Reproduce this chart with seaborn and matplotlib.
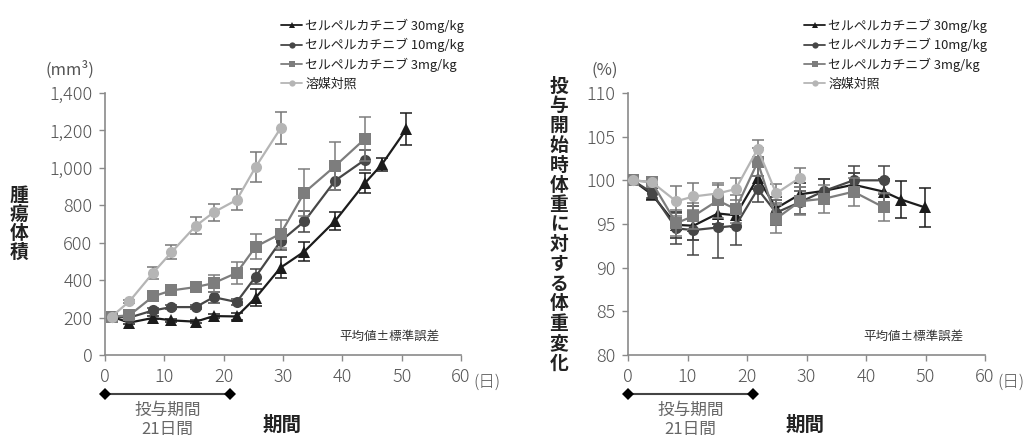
import matplotlib
matplotlib.use("Agg")
import matplotlib.pyplot as plt
from matplotlib.lines import Line2D
import seaborn as sns

# ---- data ----
series_labels = ["セルペルカチニブ 30mg/kg", "セルペルカチニブ 10mg/kg",
                 "セルペルカチニブ 3mg/kg", "溶媒対照"]

# tumour volume (mm3)
vol_days = [1.1, 4.1, 8.1, 11.2, 15.3, 18.3, 22.2, 25.4, 29.6, 33.6, 38.8, 43.8, 46.7, 50.8]
vol_30 = [205, 173, 198, 185, 178, 208, 206, 306, 467, 553, 717, 918, 1020, 1207]
vol_30_err = [0, 8, 8, 8, 8, 10, 18, 45, 55, 50, 47, 52, 35, 86]
vol_10 = [205, 200, 238, 256, 256, 309, 283, 419, 608, 714, 932, 1043]
vol_10_err = [0, 8, 15, 12, 12, 30, 15, 40, 45, 55, 50, 55]
vol_3 = [205, 212, 313, 345, 363, 384, 439, 579, 648, 868, 1010, 1155]
vol_3_err = [0, 8, 12, 18, 25, 46, 58, 67, 74, 124, 128, 117]
vol_ctrl = [205, 286, 439, 549, 690, 762, 829, 1005, 1212]
vol_ctrl_err = [0, 10, 33, 38, 45, 44, 56, 80, 84]

# body weight change (%)
bw_days = [0.8, 4.0, 8.1, 11.0, 15.1, 18.1, 21.8, 24.9, 28.9, 33.0, 37.9, 43.0, 45.9, 49.9]
bw_30 = [100, 98.4, 94.9, 94.8, 96.2, 96.0, 100.3, 96.8, 98.4, 98.8, 99.5, 98.7, 97.8, 96.9]
bw_30_err = [0, 0.7, 1.5, 1.6, 1.2, 1.3, 1.3, 1.3, 1.3, 1.3, 1.3, 1.4, 2.1, 2.2]
bw_10 = [100, 98.6, 94.5, 94.3, 94.6, 94.8, 99.0, 96.3, 97.5, 98.8, 100.0, 100.0]
bw_10_err = [0, 0.6, 1.8, 2.8, 3.5, 2.2, 1.5, 1.4, 1.3, 1.4, 1.6, 1.6]
bw_3 = [100, 99.8, 95.1, 95.9, 97.7, 96.7, 102.1, 95.6, 97.6, 97.9, 98.7, 96.9]
bw_3_err = [0, 0.6, 1.5, 1.5, 2.0, 1.6, 1.6, 1.6, 1.6, 1.6, 1.6, 1.6]
bw_ctrl = [100, 99.8, 97.6, 98.15, 98.5, 99.0, 103.6, 98.5, 100.3]
bw_ctrl_err = [0, 0.5, 1.7, 1.5, 1.0, 1.3, 1.0, 1.1, 1.1]

x_ticks = [0, 10, 20, 30, 40, 50, 60]
vol_ticks = [0, 200, 400, 600, 800, 1000, 1200, 1400]
bw_ticks = [80, 85, 90, 95, 100, 105, 110]

colors = ["#1c1c1c", "#474747", "#7d7d7d", "#b5b5b5"]
markers = ["^", "o", "s", "o"]

sns.set_theme(style="ticks")
plt.rcParams["font.family"] = ["Noto Sans CJK JP", "DejaVu Sans"]

fig = plt.figure(figsize=(10.28, 4.38), dpi=100)
W, H = 1028, 438
ax1 = fig.add_axes([105 / W, 1 - 355 / H, 356 / W, 262 / H])
ax2 = fig.add_axes([628 / W, 1 - 355 / H, 357 / W, 262 / H])


def draw(ax, days, series, errs, ylim, yticks, yfmt):
    order = [3, 0, 1, 2]  # control underneath, 3mg on top
    for i in order:
        vals = series[i]
        d = days[:len(vals)]
        ax.errorbar(d, vals, yerr=errs[i], fmt="none", ecolor="#777777" if i == 3 else colors[i],
                    elinewidth=1.1, capsize=4, capthick=1.1, zorder=2 + i)
        sns.lineplot(x=d, y=vals, ax=ax, color=colors[i], marker=markers[i],
                     markersize=8 if markers[i] != "^" else 8.5, markeredgewidth=0,
                     linewidth=1.6, zorder=3 + i, estimator=None, sort=False)
    ax.set_xlim(0, 60)
    ax.set_ylim(*ylim)
    ax.set_xticks(x_ticks)
    ax.set_yticks(yticks)
    ax.set_yticklabels([yfmt(v) for v in yticks])
    ax.set_xlabel("")
    ax.set_ylabel("")
    for s in ["top", "right"]:
        ax.spines[s].set_visible(False)
    for s in ["left", "bottom"]:
        ax.spines[s].set_color("#8a8a8a")
        ax.spines[s].set_linewidth(1.2)
    ax.tick_params(axis="both", length=4, width=1, color="#8a8a8a",
                   labelsize=13, labelcolor="#555555", pad=5)
    for lab in ax.get_xticklabels() + ax.get_yticklabels():
        lab.set_fontweight("light")
    ax.annotate("(日)", xy=(1, 0), xycoords="axes fraction", xytext=(9, -20),
                textcoords="offset points", fontsize=12, color="#555555", va="center",
                fontweight="light")
    ax.text(48.0, 0.07, "平均値±標準誤差", transform=ax.get_xaxis_transform(),
            ha="center", va="center", fontsize=9, color="#333333")
    # dosing period bar
    ax.plot([0, 21], [-0.149, -0.149], transform=ax.get_xaxis_transform(), clip_on=False,
            color="#444444", linewidth=1.5, marker="D", markersize=6, markerfacecolor="black",
            markeredgewidth=0)
    ax.text(10.5, -0.21, "投与期間", transform=ax.get_xaxis_transform(), ha="center",
            va="center", fontsize=12, color="#666666")
    ax.text(10.5, -0.283, "21日間", transform=ax.get_xaxis_transform(), ha="center",
            va="center", fontsize=12, color="#666666")
    ax.text(29.8, -0.27, "期間", transform=ax.get_xaxis_transform(), ha="center",
            va="center", fontsize=14, fontweight="bold", color="#222222")

    handles = [Line2D([0], [0], color=colors[i], marker=markers[i], markersize=4.5,
                      markeredgewidth=0, linewidth=1.3) for i in range(4)]
    ax.legend(handles, series_labels, loc="upper left", frameon=False,
              bbox_to_anchor=((ax.get_position().x0 * W + 170) / W, 1 - 12 / H),
              bbox_transform=fig.transFigure, fontsize=9.3, handlelength=1.6,
              handletextpad=0.25, labelspacing=0.42, borderpad=0, labelcolor="#222222")


draw(ax1, vol_days, [vol_30, vol_10, vol_3, vol_ctrl],
     [vol_30_err, vol_10_err, vol_3_err, vol_ctrl_err], (0, 1400), vol_ticks,
     lambda v: f"{v:,}")
draw(ax2, bw_days, [bw_30, bw_10, bw_3, bw_ctrl],
     [bw_30_err, bw_10_err, bw_3_err, bw_ctrl_err], (80, 110), bw_ticks,
     lambda v: f"{v}")

# unit labels
fig.text(70 / W, 1 - 70 / H, "(mm³)", ha="center", va="center", fontsize=12, color="#555555")
fig.text(605 / W, 1 - 70 / H, "(%)", ha="center", va="center", fontsize=12, color="#555555")

# vertical axis titles, one character per line
left_title = "腫瘍体積"
for k, ch in enumerate(left_title):
    fig.text(19 / W, 1 - (195 + 19.3 * k) / H, ch, ha="center", va="center",
             fontsize=13.5, fontweight="bold", color="#222222")
right_title = "投与開始時体重に対する体重変化"
for k, ch in enumerate(right_title):
    fig.text(559 / W, 1 - (86 + 19.8 * k) / H, ch, ha="center", va="center",
             fontsize=13.5, fontweight="bold", color="#222222")

fig.savefig("out.png", dpi=100)
